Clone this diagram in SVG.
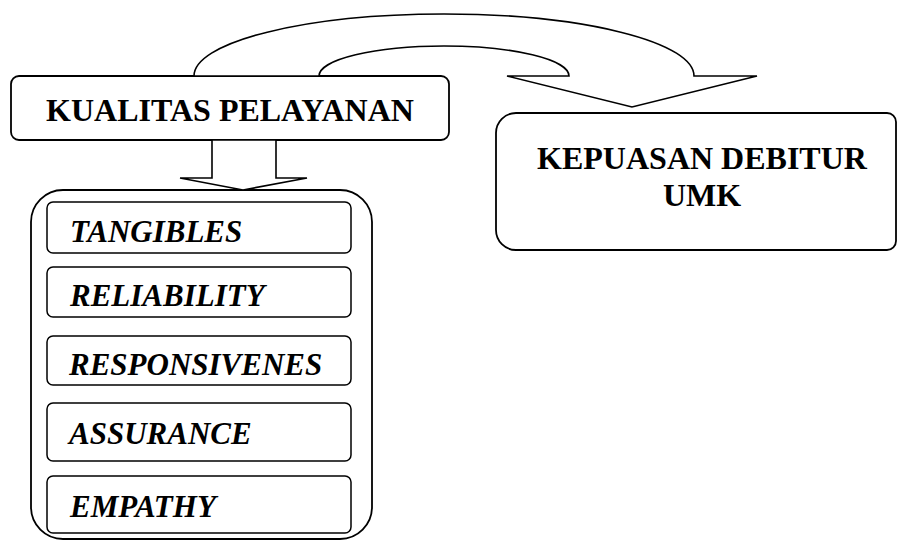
<svg xmlns="http://www.w3.org/2000/svg" width="897" height="542" viewBox="0 0 897 542">
<style>
.box{fill:#fff;stroke:#000;stroke-width:1.8}
.inner{fill:#fff;stroke:#000;stroke-width:1.5}
.arrow{fill:#fff;stroke:#000;stroke-width:1.6;stroke-linejoin:miter}
.t{font-family:"Liberation Serif","Times New Roman",serif;font-weight:bold;font-size:32px;fill:#000}
.ti{font-family:"Liberation Serif","Times New Roman",serif;font-weight:bold;font-style:italic;font-size:31px;fill:#000}
</style>
<rect width="897" height="542" fill="#fff"/>
<g id="kualitas">
<rect class="box" x="11" y="76" width="438" height="64" rx="8"/>
<text class="t" x="230" y="121" text-anchor="middle">KUALITAS PELAYANAN</text>
</g>
<g id="kepuasan">
<path class="box" d="M516 113 H887 A9 9 0 0 1 896 122 V241 A9 9 0 0 1 887 250 H516 A20 20 0 0 1 496 230 V133 A20 20 0 0 1 516 113 Z"/>
<text class="t" x="702" y="169" text-anchor="middle">KEPUASAN DEBITUR</text>
<text class="t" x="702" y="206" text-anchor="middle">UMK</text>
</g>
<g id="dimensi">
<rect class="box" x="31" y="190" width="341" height="349" rx="32"/>
</g>
<g id="tangibles">
<rect class="inner" x="47" y="202" width="304" height="51" rx="6"/>
<text class="ti" x="70" y="242">TANGIBLES</text>
</g>
<g id="reliability">
<rect class="inner" x="47" y="267" width="304" height="50" rx="6"/>
<text class="ti" x="70" y="306">RELIABILITY</text>
</g>
<g id="responsivenes">
<rect class="inner" x="47" y="336" width="304" height="49" rx="6"/>
<text class="ti" x="69" y="375">RESPONSIVENES</text>
</g>
<g id="assurance">
<rect class="inner" x="47" y="403" width="304" height="58" rx="6"/>
<text class="ti" x="69" y="444">ASSURANCE</text>
</g>
<g id="empathy">
<rect class="inner" x="47" y="476" width="304" height="57" rx="6"/>
<text class="ti" x="70" y="517">EMPATHY</text>
</g>
<g id="connectors">
<path class="arrow" d="M194 76 A250 62 0 0 1 694 76 L757 76 L632 107 L507 76 L569 76 A125 30 0 0 0 319 76 Z"/>
<path class="arrow" d="M212 140 L276 140 L276 178 L307 178 L243 190 L180 178 L212 178 Z"/>
</g>
</svg>
